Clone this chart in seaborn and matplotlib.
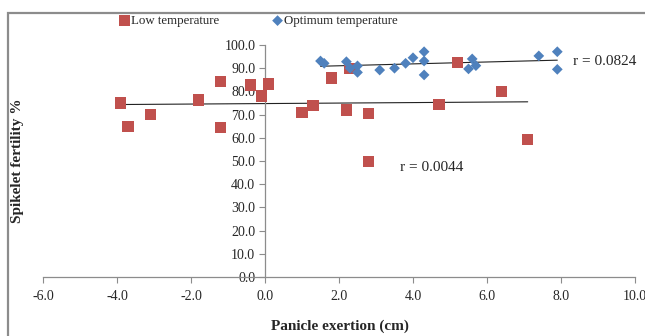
import matplotlib
matplotlib.use("Agg")
import matplotlib.pyplot as plt
from matplotlib.patches import Rectangle
import pandas as pd
import seaborn as sns

# Low temperature series (red squares)
x_low = [-3.9, -3.7, -3.1, -1.8, -1.2, -1.2, -0.4, -0.1, 0.1, 1.0,
         1.3, 1.8, 2.2, 2.3, 2.8, 2.8, 4.7, 5.2, 6.4, 7.1]
y_low = [75.0, 64.8, 70.0, 76.3, 84.2, 64.3, 82.8, 78.0, 83.2, 70.8,
         73.8, 85.8, 72.0, 90.0, 70.5, 49.8, 74.3, 92.4, 80.1, 59.4]

# Optimum temperature series (blue diamonds)
x_opt = [1.5, 1.6, 2.2, 2.3, 2.5, 2.5, 3.1, 3.5, 3.8, 4.0,
         4.3, 4.3, 4.3, 5.5, 5.6, 5.7, 7.4, 7.9, 7.9]
y_opt = [93.1, 92.1, 92.8, 90.0, 91.0, 88.2, 89.2, 90.0, 92.1, 94.5,
         97.1, 93.1, 87.1, 89.7, 94.0, 91.1, 95.3, 97.1, 89.5]

labels = ["Low temperature", "Optimum temperature"]
r_values = ["r = 0.0044", "r = 0.0824"]
x_ticks = [-6.0, -4.0, -2.0, 0.0, 2.0, 4.0, 6.0, 8.0, 10.0]
y_ticks = [0.0, 10.0, 20.0, 30.0, 40.0, 50.0, 60.0, 70.0, 80.0, 90.0, 100.0]

red = "#C0504D"
blue = "#4F81BD"
grey = "#8C8C8C"

sns.set_style("white")
plt.rcParams["font.family"] = ["Liberation Serif", "DejaVu Serif"]

low = pd.DataFrame({"x": x_low, "y": y_low})
opt = pd.DataFrame({"x": x_opt, "y": y_opt})

fig = plt.figure(figsize=(6.45, 3.36), dpi=100)
ax = fig.add_axes([43 / 645, 1 - 277 / 336, 592 / 645, 232 / 336])

sns.scatterplot(data=low, x="x", y="y", marker="s", s=66, color=red,
                edgecolor="none", ax=ax, label=labels[0], zorder=3)
sns.scatterplot(data=opt, x="x", y="y", marker="D", s=30, color=blue,
                edgecolor="none", ax=ax, label=labels[1], zorder=3)

# linear trendlines
sns.regplot(data=low, x="x", y="y", scatter=False, ci=None, ax=ax,
            line_kws={"color": "#222222", "lw": 0.8, "zorder": 2})
sns.regplot(data=opt, x="x", y="y", scatter=False, ci=None, ax=ax,
            line_kws={"color": "#222222", "lw": 0.8, "zorder": 2})

ax.set_xlim(-6, 10)
ax.set_ylim(0, 100)
ax.set_xticks(x_ticks)
ax.set_yticks(y_ticks)
ax.set_xticklabels([f"{t:.1f}" for t in x_ticks], fontsize=12)
ax.set_yticklabels([f"{t:.1f}" for t in y_ticks], fontsize=12)
ax.tick_params(axis="both", direction="out", length=4, width=0.8,
               color=grey, left=True, bottom=True)
ax.tick_params(axis="x", pad=5)
ax.tick_params(axis="y", pad=3)

for side in ["top", "right"]:
    ax.spines[side].set_visible(False)
ax.spines["left"].set_position(("data", 0))
ax.spines["bottom"].set_position(("data", 0))
for side in ["left", "bottom"]:
    ax.spines[side].set_color(grey)
    ax.spines[side].set_linewidth(0.9)

ax.set_xlabel("")
ax.set_ylabel("")
fig.text(340 / 645, 1 - 326 / 336, "Panicle exertion (cm)", ha="center",
         va="center", fontsize=11, fontweight="bold")
fig.text(18 / 645, 1 - 161 / 336, "Spikelet fertility %", ha="center",
         va="center", rotation=90, fontsize=11, fontweight="bold")

ax.text(8.32, 92.7, r_values[1], fontsize=11, va="center", ha="left")
ax.text(3.65, 47.0, r_values[0], fontsize=11, va="center", ha="left")

ax.legend(loc="center", bbox_to_anchor=(258 / 645, 1 - 21 / 336),
          bbox_transform=fig.transFigure, ncol=2, frameon=False,
          fontsize=9.3, handletextpad=0.0, columnspacing=4.0,
          handlelength=1.0, borderaxespad=0)

# outer chart frame
fig.patches.append(Rectangle((8 / 645, -0.2), 1.2, 1.2 - 13 / 336,
                             transform=fig.transFigure, fill=False,
                             edgecolor=grey, lw=1.6))

fig.savefig("out.png", dpi=100)
